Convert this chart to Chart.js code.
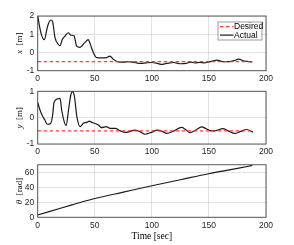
<!DOCTYPE html>
<html>
<head>
<meta charset="utf-8">
<script src="https://cdn.jsdelivr.net/npm/chart.js@4/dist/chart.umd.min.js"></script>
<style>
  html, body { margin: 0; padding: 0; background: #fff; }
  body { width: 294px; height: 245px; position: relative; overflow: hidden; }
  .panel { position: absolute; left: 0; width: 294px; }
  canvas { display: block; }
</style>
</head>
<body>
<div class="panel" style="top:0px;height:84px"><canvas id="xChart" width="294" height="84"></canvas></div>
<div class="panel" style="top:78px;height:80px"><canvas id="yChart" width="294" height="80"></canvas></div>
<div class="panel" style="top:152px;height:93px"><canvas id="thetaChart" width="294" height="93"></canvas></div>
<script>
// x position over time
const xTime = [0, 2.9, 5.8, 7.9, 9.3, 11.6, 13, 15.2, 18, 19.5, 21.6, 23.3, 26.8, 28.9, 31.8, 34.1, 37, 39, 41.4, 44.3, 45.8, 48.7, 51.7, 56, 60.4, 63.3, 66.3, 69.7, 75, 80, 85, 90, 95, 100, 104, 108, 113, 119, 125, 130, 134, 138, 142, 146, 150, 154, 157, 162, 168, 172, 176, 181, 185, 188];
const xActual = [2.0, 1.05, 0.7, 1.23, 1.56, 1.78, 1.7, 0.8, 0.45, 0.37, 0.72, 0.85, 1.08, 0.95, 0.92, 0.35, 0.28, 0.38, 0.55, 0.7, 0.5, 0.0, -0.28, -0.3, -0.28, -0.2, -0.38, -0.5, -0.53, -0.5, -0.55, -0.6, -0.57, -0.55, -0.58, -0.65, -0.6, -0.55, -0.62, -0.6, -0.53, -0.57, -0.55, -0.57, -0.52, -0.46, -0.42, -0.5, -0.5, -0.45, -0.37, -0.47, -0.5, -0.52];

// y position over time
const yTime = [0, 2, 4.1, 6.4, 8.4, 11.3, 13.1, 14.3, 17.2, 19.6, 21, 23.4, 24.9, 27, 29, 30.5, 32.2, 34.3, 37.2, 40, 43, 45.3, 47.3, 50.3, 53.2, 56, 60, 63.5, 68, 72.3, 76.6, 80.4, 85, 89.5, 94, 99.5, 105, 109, 113, 119.5, 126, 129.5, 133.5, 138.5, 143.6, 148, 152, 157, 162, 167, 172.6, 178, 183, 188.7];
const yActual = [0.58, 0.29, 0.07, -0.1, -0.25, -0.22, 0.1, 0.58, 0.71, 0.73, 0.29, -0.18, -0.3, 0.29, 0.86, 0.99, 0.8, 0.04, -0.34, -0.21, -0.18, -0.13, -0.18, -0.22, -0.28, -0.38, -0.34, -0.41, -0.41, -0.5, -0.56, -0.53, -0.47, -0.53, -0.63, -0.56, -0.47, -0.52, -0.6, -0.5, -0.37, -0.45, -0.57, -0.47, -0.35, -0.43, -0.5, -0.48, -0.42, -0.5, -0.6, -0.52, -0.45, -0.55];

// heading
const thetaTime = [0, 10, 20, 30, 40, 50, 75, 100, 125, 150, 175, 188];
const thetaActual = [3, 7.5, 12, 16.5, 21, 25, 33.5, 42, 50, 58, 65, 69];

// desired setpoints
const desiredTime = [0, 188];
const desiredX = [-0.5, -0.5];
const desiredY = [-0.5, -0.5];

const xTicks = [0, 50, 100, 150, 200];
const legendLabels = ["Desired", "Actual"];

const AXIS_COLOR = "#262626";
const GRID_COLOR = "rgba(38,38,38,0.13)";
const SANS = "'Liberation Sans', Arial, sans-serif";
const SERIF = "'Liberation Serif', 'Times New Roman', serif";

const toPoints = (ts, vs) => ts.map((t, i) => ({ x: t, y: vs[i] }));

// box around plot area, like matlab "box on"
const boxPlugin = {
  id: "box",
  afterDatasetsDraw(chart) {
    const { ctx, chartArea: a } = chart;
    ctx.save();
    ctx.strokeStyle = "rgba(38,38,38,0.75)";
    ctx.lineWidth = 1;
    ctx.strokeRect(a.left, a.top, a.right - a.left, a.bottom - a.top);
    ctx.restore();
  }
};

// rotated y label with italic symbol + upright unit
const yLabelPlugin = {
  id: "yLabel",
  afterDraw(chart, args, opts) {
    if (!opts.sym) return;
    const { ctx, chartArea: a } = chart;
    ctx.save();
    ctx.fillStyle = "#000";
    ctx.textBaseline = "middle";
    const symFont = "italic 9px " + SERIF;
    const unitFont = "9px " + SERIF;
    ctx.font = symFont;
    const w1 = ctx.measureText(opts.sym).width;
    ctx.font = unitFont;
    const w2 = ctx.measureText(opts.unit).width;
    const total = w1 + w2;
    ctx.translate(opts.x, (a.top + a.bottom) / 2 + (opts.dy || 0));
    ctx.rotate(-Math.PI / 2);
    ctx.textAlign = "left";
    ctx.font = symFont;
    ctx.fillText(opts.sym, -total / 2, 0);
    ctx.font = unitFont;
    ctx.fillText(opts.unit, -total / 2 + w1, 0);
    ctx.restore();
  }
};

// legend box inside the axes, top right
const boxLegendPlugin = {
  id: "boxLegend",
  afterDraw(chart, args, opts) {
    if (!opts.show) return;
    const { ctx, chartArea: a } = chart;
    const ds = chart.data.datasets;
    const right = a.right - 4, top = a.top + 6;
    const w = 44, h = 18;
    const left = right - w;
    ctx.save();
    ctx.fillStyle = "#fff";
    ctx.fillRect(left, top, w, h);
    ctx.strokeStyle = "rgba(38,38,38,0.45)";
    ctx.lineWidth = 1;
    ctx.strokeRect(left, top, w, h);
    ctx.font = "8.5px " + SANS;
    ctx.textBaseline = "middle";
    ctx.textAlign = "left";
    ds.forEach((d, i) => {
      const yy = top + 4.6 + i * 8.5;
      ctx.beginPath();
      ctx.strokeStyle = d.borderColor;
      ctx.lineWidth = d.borderWidth;
      ctx.setLineDash(d.borderDash || []);
      ctx.moveTo(left + 2, yy);
      ctx.lineTo(left + 15.5, yy);
      ctx.stroke();
      ctx.setLineDash([]);
      ctx.fillStyle = "#000";
      ctx.fillText(d.label, left + 16, yy + 0.5);
    });
    ctx.restore();
  }
};

function makeChart(id, datasets, yOpts, extra) {
  const ctx = document.getElementById(id).getContext("2d");
  return new Chart(ctx, {
    type: "line",
    data: { datasets },
    plugins: [boxPlugin, yLabelPlugin, boxLegendPlugin],
    options: {
      responsive: false,
      animation: false,
      devicePixelRatio: 1,
      layout: { padding: { top: extra.padTop, right: 28, left: 0, bottom: 0 } },
      elements: { point: { radius: 0 } },
      scales: {
        x: {
          type: "linear",
          min: 0,
          max: 200,
          afterBuildTicks: (s) => { s.ticks = xTicks.map(v => ({ value: v })); },
          afterFit: (s) => { s.height = extra.xHeight; },
          border: { display: false },
          grid: { color: GRID_COLOR, drawTicks: false, lineWidth: 1 },
          ticks: { color: AXIS_COLOR, font: { family: SANS, size: 8.5 }, padding: 3, maxRotation: 0 },
          title: extra.xTitle ? {
            display: true,
            text: extra.xTitle,
            color: "#000",
            font: { family: SERIF, size: 9.5 },
            padding: { top: 0, bottom: 3 }
          } : { display: false }
        },
        y: {
          min: yOpts.min,
          max: yOpts.max,
          afterBuildTicks: (s) => { s.ticks = yOpts.ticks.map(v => ({ value: v })); },
          afterFit: (s) => { s.width = 37.7; },
          border: { display: false },
          grid: { color: GRID_COLOR, drawTicks: false, lineWidth: 1 },
          ticks: { color: AXIS_COLOR, font: { family: SANS, size: 8.5 }, padding: 3.5 }
        }
      },
      plugins: {
        legend: { display: false },
        tooltip: { enabled: false },
        yLabel: { sym: yOpts.sym, unit: yOpts.unit, x: 20 },
        boxLegend: { show: !!extra.legend }
      }
    }
  });
}

const desiredStyle = {
  borderColor: "rgba(255,40,40,0.9)",
  borderWidth: 1.4,
  borderDash: [3.5, 2.5],
  fill: false
};
const actualStyle = {
  borderColor: "#1a1a1a",
  borderWidth: 1.2,
  cubicInterpolationMode: "monotone",
  fill: false
};

makeChart("xChart", [
  { label: legendLabels[0], data: toPoints(desiredTime, desiredX), ...desiredStyle },
  { label: legendLabels[1], data: toPoints(xTime, xActual), ...actualStyle }
], { min: -1, max: 2, ticks: [-1, 0, 1, 2], sym: "x", unit: "  [m]" },
   { padTop: 16, xHeight: 13.3, legend: true });

makeChart("yChart", [
  { label: legendLabels[0], data: toPoints(desiredTime, desiredY), ...desiredStyle },
  { label: legendLabels[1], data: toPoints(yTime, yActual), ...actualStyle }
], { min: -1, max: 1, ticks: [-1, 0, 1], sym: "y", unit: "  [m]" },
   { padTop: 13.3, xHeight: 14 });

makeChart("thetaChart", [
  { label: legendLabels[1], data: toPoints(thetaTime, thetaActual), ...actualStyle }
], { min: 0, max: 70, ticks: [0, 20, 40, 60], sym: "θ", unit: "  [rad]" },
   { padTop: 12.7, xHeight: 27.7, xTitle: "Time [sec]" });
</script>
</body>
</html>
